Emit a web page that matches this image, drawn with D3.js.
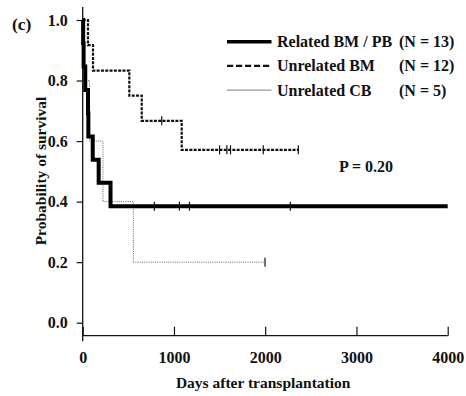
<!DOCTYPE html>
<html>
<head>
<meta charset="utf-8">
<script src="https://cdn.jsdelivr.net/npm/d3@7"></script>
<style>
  body { margin: 0; background: #fff; }
  text { font-family: "Liberation Serif", "DejaVu Serif", serif; font-weight: bold; fill: #111; }
</style>
</head>
<body>
<div id="chart"></div>
<script>
// Related BM / PB (N = 13)
const relTimes = [0, 5, 10, 28, 58, 62, 110, 175, 305];
const relSurv = [1, 0.923, 0.846, 0.769, 0.692, 0.615, 0.538, 0.462, 0.385];
const relEnd = 4000;
const relCensor = [785, 1060, 1170, 2275];

// Unrelated BM (N = 12)
const bmTimes = [0, 58, 113, 511, 647, 1085];
const bmSurv = [1, 0.917, 0.833, 0.75, 0.667, 0.571];
const bmEnd = 2363;
const bmCensor = [866, 1500, 1580, 1620, 1979, 2363];

// Unrelated CB (N = 5)
const cbTimes = [0, 15, 75, 222, 555];
const cbSurv = [1, 0.8, 0.6, 0.4, 0.2];
const cbEnd = 1998;
const cbCensor = [1998];

const xTicks = [0, 1000, 2000, 3000, 4000];
const yTicks = [0, 0.2, 0.4, 0.6, 0.8, 1.0];

const legendNames = ['Related BM / PB', 'Unrelated BM', 'Unrelated CB'];
const legendN = ['(N = 13)', '(N = 12)', '(N = 5)'];

const width = 466, height = 396;

const svg = d3.select('#chart')
  .append('svg')
  .attr('width', width)
  .attr('height', height);

const x = d3.scaleLinear().domain([0, 4000]).range([82.7, 447.7]);
const y = d3.scaleLinear().domain([0, 1]).range([322.7, 20]);
const axisY = 335.7;

// y axis
const yAxis = svg.append('g')
  .attr('transform', `translate(${x(0)}, 0)`)
  .call(d3.axisLeft(y).tickValues(yTicks).tickSize(6).tickPadding(9).tickFormat(d3.format('.1f')));
yAxis.select('.domain').remove();
yAxis.selectAll('line').attr('stroke', '#111').attr('stroke-width', 1.2);
yAxis.selectAll('text').style('font-size', '16px').attr('fill', '#111');

svg.append('line')
  .attr('x1', x(0)).attr('x2', x(0))
  .attr('y1', y(1.043)).attr('y2', axisY + 5.5)
  .attr('stroke', '#111').attr('stroke-width', 1.3);

// x axis
const xAxis = svg.append('g')
  .attr('transform', `translate(0, ${axisY})`)
  .call(d3.axisBottom(x).tickValues(xTicks).tickSize(-9).tickPadding(0).tickFormat(d3.format('d')));
xAxis.select('.domain').remove();
xAxis.selectAll('line').attr('stroke', '#111').attr('stroke-width', 1.2);
xAxis.selectAll('text')
  .style('font-size', '16px')
  .attr('fill', '#111')
  .attr('dy', null)
  .attr('y', 27);

svg.append('line')
  .attr('x1', x(0)).attr('x2', x(4000))
  .attr('y1', axisY).attr('y2', axisY)
  .attr('stroke', '#111').attr('stroke-width', 1.3);

// axis titles
svg.append('text')
  .attr('x', (x(0) + x(4000)) / 2 - 2)
  .attr('y', 388)
  .attr('text-anchor', 'middle')
  .style('font-size', '15.5px')
  .text('Days after transplantation');

svg.append('text')
  .attr('transform', 'translate(46, 171) rotate(-90)')
  .attr('text-anchor', 'middle')
  .style('font-size', '15.5px')
  .text('Probability of survival');

svg.append('text')
  .attr('x', 12)
  .attr('y', 30)
  .style('font-size', '17.5px')
  .text('(c)');

// curves
function stepData(times, surv, end) {
  const pts = times.map((t, i) => [t, surv[i]]);
  pts.push([end, surv[surv.length - 1]]);
  return pts;
}
function survAt(times, surv, t) {
  let s = surv[0];
  times.forEach((tt, i) => { if (tt <= t) s = surv[i]; });
  return s;
}

const line = d3.line()
  .x(d => x(d[0]))
  .y(d => y(d[1]))
  .curve(d3.curveStepAfter);

const series = [
  { times: cbTimes, surv: cbSurv, end: cbEnd, censor: cbCensor, stroke: '#666', width: 1, dash: '1,1.2' },
  { times: bmTimes, surv: bmSurv, end: bmEnd, censor: bmCensor, stroke: '#111', width: 2.2, dash: '3,1.3' },
  { times: relTimes, surv: relSurv, end: relEnd, censor: relCensor, stroke: '#000', width: 4, dash: null }
];

series.forEach(s => {
  svg.append('path')
    .datum(stepData(s.times, s.surv, s.end))
    .attr('fill', 'none')
    .attr('stroke', s.stroke)
    .attr('stroke-width', s.width)
    .attr('stroke-dasharray', s.dash)
    .attr('d', line);

  svg.selectAll(null)
    .data(s.censor)
    .enter()
    .append('line')
    .attr('x1', d => x(d)).attr('x2', d => x(d))
    .attr('y1', d => y(survAt(s.times, s.surv, d)) - 4.5)
    .attr('y2', d => y(survAt(s.times, s.surv, d)) + 4.5)
    .attr('stroke', '#111')
    .attr('stroke-width', 1.2);
});

// legend
const legendStyles = [
  { stroke: '#000', width: 3.6, dash: null },
  { stroke: '#111', width: 2.4, dash: '6.2,2.8' },
  { stroke: '#999', width: 1.2, dash: null }
];
const legend = svg.append('g');
legendNames.forEach((name, i) => {
  const ly = 41.7 + i * 24.2;
  legend.append('line')
    .attr('x1', 227).attr('x2', 271.5)
    .attr('y1', ly).attr('y2', ly)
    .attr('stroke', legendStyles[i].stroke)
    .attr('stroke-width', legendStyles[i].width)
    .attr('stroke-dasharray', legendStyles[i].dash);
  legend.append('text')
    .attr('x', 277).attr('y', ly + 5.5)
    .style('font-size', '16px')
    .text(name);
  legend.append('text')
    .attr('x', 399).attr('y', ly + 5.5)
    .style('font-size', '16px')
    .text(legendN[i]);
});

svg.append('text')
  .attr('x', 339)
  .attr('y', 172)
  .style('font-size', '16px')
  .text('P = 0.20');
</script>
</body>
</html>
